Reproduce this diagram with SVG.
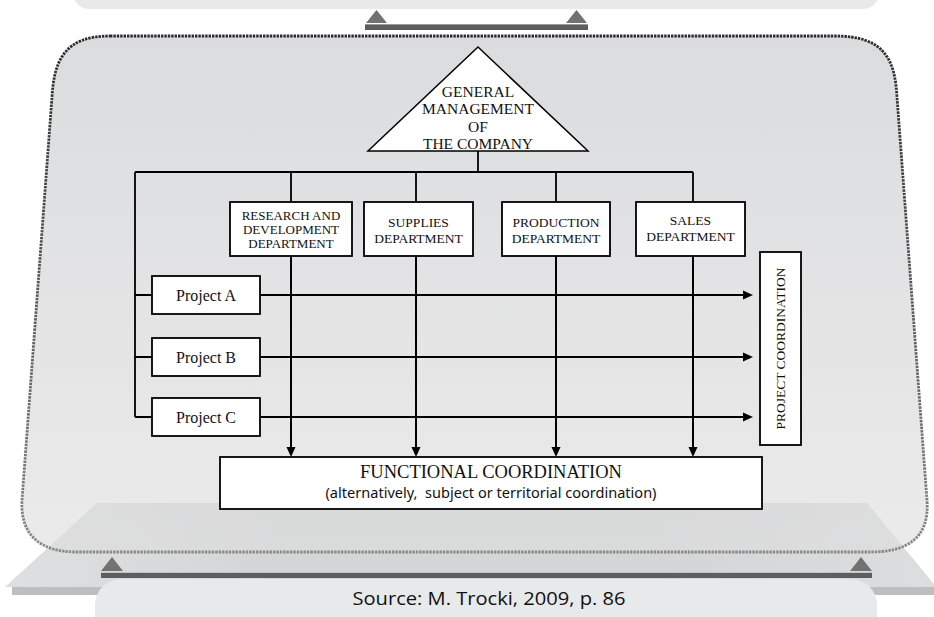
<svg xmlns="http://www.w3.org/2000/svg" width="934" height="617" viewBox="0 0 934 617">
<defs>
<style>
.box{fill:#fff;stroke:#000;stroke-width:1.8}
.ln{fill:none;stroke:#000;stroke-width:1.8}
.ar{fill:none;stroke:#000;stroke-width:2;marker-end:url(#arrow)}
.sf{font-family:"Liberation Serif","Times New Roman",serif;fill:#111;text-anchor:middle}
.ss{font-family:"Noto Sans","Open Sans",sans-serif;fill:#111;text-anchor:middle}
.tri{fill:#727272}
.bar{fill:#5e5e5e}
</style>
<linearGradient id="shapeFill" x1="0" y1="0" x2="0" y2="1">
<stop offset="0" stop-color="#cdced1" stop-opacity="0.72"/>
<stop offset="1" stop-color="#dedede" stop-opacity="0.62"/>
</linearGradient>
<linearGradient id="dotStroke" x1="0" y1="0" x2="0" y2="1">
<stop offset="0" stop-color="#2a2a2a"/>
<stop offset="1" stop-color="#888"/>
</linearGradient>
<linearGradient id="floorFill" x1="0" y1="0" x2="1" y2="0">
<stop offset="0" stop-color="#dedfe0"/>
<stop offset="0.3" stop-color="#d4d5d7"/>
<stop offset="0.7" stop-color="#d4d5d7"/>
<stop offset="1" stop-color="#dcdddf"/>
</linearGradient>
<marker id="arrow" viewBox="0 0 10 10" refX="6" refY="5" markerWidth="10" markerHeight="10" markerUnits="userSpaceOnUse" orient="auto">
<path d="M0,0.5 L10,5 L0,9.5 Z" fill="#000"/>
</marker>
</defs>

<g id="background">
<rect x="72" y="-31" width="808" height="40" rx="18" fill="#e8e9ea"/>
<polygon class="tri" points="366,23 376.5,10 387,23"/>
<polygon class="tri" points="566,23 576.5,10 587,23"/>
<rect class="bar" x="365" y="24" width="223" height="6"/>
<line x1="365" y1="24.5" x2="588" y2="24.5" stroke="#9a9a9a" stroke-width="1"/>

<polygon points="97,503 867,503 934,584 934,587 5,587" fill="url(#floorFill)"/>
<rect x="12" y="587" width="922" height="8" fill="#bdbebf"/>

<path d="M110 36 L835 36 C885 36 895 60 897 97 L927 500 C930 540 905 552 870 552 L77 552 C40 552 20 535 22 500 L52 97 C54 60 65 36 110 36 Z" fill="url(#shapeFill)" stroke="url(#dotStroke)" stroke-width="2.8" stroke-dasharray="2.4 1"/>

<polygon class="tri" points="101,571 112,557 123,571"/>
<polygon class="tri" points="850,571 861,557 872,571"/>
<rect class="bar" x="101" y="572" width="771" height="6"/>
<line x1="101" y1="572.5" x2="872" y2="572.5" stroke="#c4c4c4" stroke-width="1"/>
<rect x="95" y="579" width="782" height="70" rx="26" fill="#e8e9ea"/>
<text x="489" y="605" font-family="'Open Sans','Noto Sans',sans-serif" font-size="18" fill="#111" text-anchor="middle" textLength="273" lengthAdjust="spacingAndGlyphs">Source: M. Trocki, 2009, p. 86</text>
</g>

<g id="connectors">
<path class="ln" d="M478 151 V172 M135 172 H693 M291 172 V202 M416 172 V202 M556 172 V202 M693 172 V202 M135 172 V417 M135 295 H152 M135 357 H152 M135 417 H152"/>
<path class="ar" d="M260 295 H749"/>
<path class="ar" d="M260 357 H749"/>
<path class="ar" d="M260 417 H749"/>
<path class="ar" d="M291 256 V453"/>
<path class="ar" d="M416 256 V453"/>
<path class="ar" d="M556 256 V453"/>
<path class="ar" d="M693 256 V453"/>
</g>

<g id="general-management">
<polygon points="478,47 588,151 368,151" fill="#fff" stroke="#000" stroke-width="1.5"/>
<text class="sf" font-size="15.5"><tspan x="478" y="97">GENERAL</tspan><tspan x="478" y="114.3">MANAGEMENT</tspan><tspan x="478" y="131.6">OF</tspan><tspan x="478" y="148.9">THE COMPANY</tspan></text>
</g>

<g id="rd-department">
<rect class="box" x="230" y="202" width="122" height="54"/>
<text class="sf" font-size="13"><tspan x="291" y="219.5">RESEARCH AND</tspan><tspan x="291" y="233.9">DEVELOPMENT</tspan><tspan x="291" y="248.3">DEPARTMENT</tspan></text>
</g>

<g id="supplies-department">
<rect class="box" x="364" y="202" width="109" height="54"/>
<text class="sf" font-size="13.5"><tspan x="418.5" y="227">SUPPLIES</tspan><tspan x="418.5" y="243">DEPARTMENT</tspan></text>
</g>

<g id="production-department">
<rect class="box" x="502" y="202" width="108" height="54"/>
<text class="sf" font-size="13.5"><tspan x="556" y="227">PRODUCTION</tspan><tspan x="556" y="243">DEPARTMENT</tspan></text>
</g>

<g id="sales-department">
<rect class="box" x="636" y="202" width="109" height="54"/>
<text class="sf" font-size="13.5"><tspan x="690.5" y="225">SALES</tspan><tspan x="690.5" y="241">DEPARTMENT</tspan></text>
</g>

<g id="project-a">
<rect class="box" x="152" y="276" width="108" height="38"/>
<text class="sf" x="206" y="300.5" font-size="16">Project A</text>
</g>

<g id="project-b">
<rect class="box" x="152" y="338" width="108" height="38"/>
<text class="sf" x="206" y="362.5" font-size="16">Project B</text>
</g>

<g id="project-c">
<rect class="box" x="152" y="398" width="108" height="38"/>
<text class="sf" x="206" y="422.5" font-size="16">Project C</text>
</g>

<g id="project-coordination">
<rect class="box" x="760" y="252" width="41" height="193"/>
<text class="sf" font-size="13.5" transform="translate(785 348.5) rotate(-90)" x="0" y="0">PROJECT COORDINATION</text>
</g>

<g id="functional-coordination">
<rect class="box" x="220" y="457" width="542" height="52"/>
<text class="sf" x="491" y="478" font-size="18.5">FUNCTIONAL COORDINATION</text>
<text class="ss" x="491" y="498" font-size="14" textLength="331" lengthAdjust="spacingAndGlyphs" xml:space="preserve">(alternatively,  subject or territorial coordination)</text>
</g>
</svg>
